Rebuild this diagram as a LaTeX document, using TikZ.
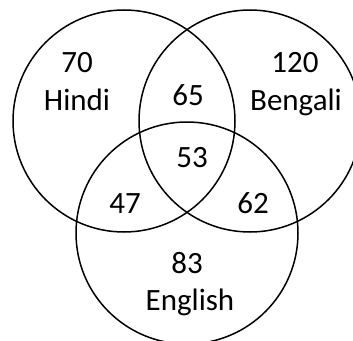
\documentclass[tikz,border=0pt]{standalone}
\usepackage{fontspec}
\setmainfont{Carlito}
\tikzset{
  setc/.style={line width=1.5pt},
  lbl/.style={anchor=base, inner sep=0pt, font=\fontsize{31}{37}\selectfont}
}

\begin{document}
\begin{tikzpicture}[x=1pt,y=-1pt]
\useasboundingbox (0,0) rectangle (353,340);

\draw [setc] (124,121) circle [radius=111pt];
\draw [setc] (250,121) circle [radius=111pt];
\draw [setc] (187,233) circle [radius=111pt];

\node (H1) at (77,72) [lbl] {70};
\node (H2) at (77,110) [lbl] {Hindi};
\node (B1) at (295,72) [lbl] {120};
\node (B2) at (296,110) [lbl] {Bengali};
\node (E1) at (187,273) [lbl] {83};
\node (E2) at (190,310) [lbl] {English};
\node (HB) at (188,105) [lbl] {65};
\node (HBE) at (192,167) [lbl] {53};
\node (HE) at (125,213) [lbl] {47};
\node (BE) at (253,213) [lbl] {62};

\end{tikzpicture}
\end{document}
